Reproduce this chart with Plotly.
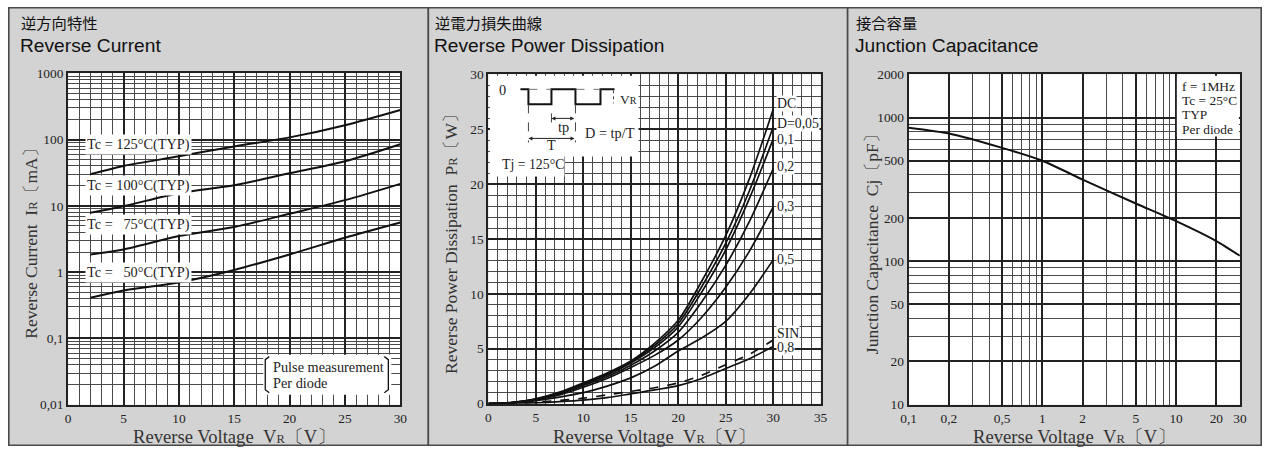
import math
import plotly.graph_objects as go

# The photographed page shows the figure inside an 8 px body margin and the shot is
# rescaled to the window; map target pixel positions through that transform.
FIG_W, FIG_H = 1269, 454
OFF = 8
SX = FIG_W / (FIG_W + 2 * OFF)
SY = FIG_H / (FIG_H + 2 * OFF)


def fx(x):
    return min(max(x / SX - OFF, 0.8), FIG_W - 0.8)


def fy(y):
    return min(max(y / SY - OFF, 0.8), FIG_H - 0.8)


def PX(x):
    return fx(x) / FIG_W


def PY(y):
    return 1 - fy(y) / FIG_H


# ---------------- Panel 1 : Reverse current ----------------
vr_current = [2, 5, 10, 15, 20, 25, 30]
ir_tc125 = [30, 40, 56, 79, 108, 165, 280]
ir_tc100 = [7.9, 9.9, 15.5, 20.5, 31, 47, 85]
ir_tc75 = [1.85, 2.2, 3.5, 4.8, 7.6, 12.2, 21.5]
ir_tc50 = [0.41, 0.53, 0.70, 1.08, 1.85, 3.3, 5.6]
ir_labels = ["Tc\u00a0=\u00a0125°C(TYP)", "Tc\u00a0=\u00a0100°C(TYP)",
             "Tc\u00a0=\u00a0\u00a0\u00a075°C(TYP)", "Tc\u00a0=\u00a0\u00a0\u00a050°C(TYP)"]
ir_label_y = [85, 20, 5.2, 1.0]
ir_yticks = [0.01, 0.1, 1, 10, 100, 1000]
ir_yticktext = ["0,01", "0,1", "1", "10", "100", "1000"]
ir_xticks = [0, 5, 10, 15, 20, 25, 30]

# ---------------- Panel 2 : Reverse power dissipation ----------------
vr_power = [0, 2.5, 5, 7.5, 10, 12.5, 15, 17.5, 20, 22.5, 25, 27.5, 30]
pr_dc = [0, 0.12, 0.45, 1.05, 1.9, 2.8, 3.9, 5.5, 7.6, 11.2, 15.3, 20.5, 26.8]
pr_d005 = [0, 0.11, 0.43, 1.0, 1.8, 2.7, 3.8, 5.3, 7.3, 10.7, 14.6, 19.4, 25.2]
pr_d01 = [0, 0.10, 0.40, 0.95, 1.75, 2.6, 3.7, 5.1, 7.0, 10.2, 14.0, 18.7, 24.1]
pr_d02 = [0, 0.10, 0.38, 0.9, 1.65, 2.45, 3.5, 4.8, 6.5, 9.3, 12.6, 16.6, 21.4]
pr_d03 = [0, 0.09, 0.35, 0.8, 1.5, 2.3, 3.3, 4.4, 5.8, 7.9, 10.6, 13.9, 17.9]
pr_d05 = [0, 0.07, 0.28, 0.6, 1.0, 1.6, 2.35, 3.4, 4.8, 6.0, 7.5, 10.0, 13.1]
pr_sin = [0, 0.04, 0.15, 0.3, 0.5, 0.8, 1.12, 1.45, 1.9, 2.6, 3.55, 4.5, 5.8]
pr_d08 = [0, 0.02, 0.08, 0.18, 0.32, 0.55, 0.9, 1.25, 1.65, 2.3, 3.2, 4.1, 5.2]
pr_labels = ["DC", "D=0,05", "0,1", "0,2", "0,3", "0,5", "SIN", "0,8"]
pr_label_y = [27.3, 25.5, 24.1, 21.6, 18.0, 13.1, 6.4, 5.1]
pr_xticks = [0, 5, 10, 15, 20, 25, 30, 35]
pr_yticks = [0, 5, 10, 15, 20, 25, 30]

# ---------------- Panel 3 : Junction capacitance ----------------
vr_cap = [0.1, 0.2, 0.5, 1, 2, 5, 10, 20, 30]
cj = [850, 775, 615, 500, 370, 252, 190, 138, 109]
cj_xticks = [0.1, 0.2, 0.5, 1, 2, 5, 10, 20, 30]
cj_xticktext = ["0,1", "0,2", "0,5", "1", "2", "5", "10", "20", "30"]
cj_yticks = [10, 20, 50, 100, 200, 500, 1000, 2000]
cj_xminor = [0.3, 0.4, 0.6, 0.7, 0.8, 0.9, 3, 4, 6, 7, 8, 9]
cj_yminor = [30, 40, 60, 70, 80, 90, 300, 400, 600, 700, 800, 900]
cj_notes = ["f\u00a0=\u00a01MHz", "Tc\u00a0=\u00a025°C", "TYP", "Per diode"]

# ---------------- styles ----------------
SERIF = "Liberation Serif, DejaVu Serif, serif"
SANS = "Liberation Sans, Arial, sans-serif"
CJK = "Noto Sans CJK JP"
MAJOR = dict(gridcolor="#222222", gridwidth=1.8)
MINOR_C, MINOR_W = "#4a4a4a", 0.9
TICKFONT = dict(family=SERIF, size=13.4, color="#222222")

fig = go.Figure()

# panel 1 traces
for ys in (ir_tc125, ir_tc100, ir_tc75, ir_tc50):
    fig.add_trace(go.Scatter(x=vr_current, y=ys, mode="lines", xaxis="x", yaxis="y",
                             line=dict(color="#111", width=2, shape="spline", smoothing=0.8),
                             hoverinfo="skip"))
# panel 2 traces
for ys, dash in ((pr_dc, "solid"), (pr_d005, "solid"), (pr_d01, "solid"), (pr_d02, "solid"),
                 (pr_d03, "solid"), (pr_d05, "solid"), (pr_sin, "dash"), (pr_d08, "solid")):
    fig.add_trace(go.Scatter(x=vr_power, y=ys, mode="lines", xaxis="x2", yaxis="y2",
                             line=dict(color="#111", width=1.7, shape="spline", smoothing=0.8,
                                       dash=dash),
                             hoverinfo="skip"))
# panel 3 trace
fig.add_trace(go.Scatter(x=vr_cap, y=cj, mode="lines", xaxis="x3", yaxis="y3",
                         line=dict(color="#111", width=2, shape="spline", smoothing=0.6),
                         hoverinfo="skip"))


def axis_common():
    return dict(showline=True, mirror=True, linecolor="#222", linewidth=2, ticks="",
                zeroline=False, tickfont=TICKFONT, showgrid=True, layer="above traces",
                **MAJOR)


lg = math.log10
ir_yminor = [k * 10 ** d for d in range(-2, 3) for k in range(2, 10)]

layout = dict(
    width=FIG_W, height=FIG_H, margin=dict(l=0, r=0, t=0, b=0), autosize=False,
    paper_bgcolor="white", plot_bgcolor="rgba(0,0,0,0)", showlegend=False,
    xaxis=dict(domain=[PX(68), PX(400)], anchor="y", range=[0, 30], tickvals=ir_xticks,
               minor=dict(dtick=1, showgrid=True, gridcolor=MINOR_C, gridwidth=MINOR_W),
               **axis_common()),
    yaxis=dict(domain=[PY(405), PY(74)], anchor="x", type="log", range=[-2, 3],
               tickvals=ir_yticks, ticktext=ir_yticktext,
               minor=dict(tickmode="array", tickvals=ir_yminor, showgrid=True,
                          gridcolor=MINOR_C, gridwidth=MINOR_W),
               **axis_common()),
    xaxis2=dict(domain=[PX(488), PX(820)], anchor="y2", range=[0, 35], tickvals=pr_xticks,
                minor=dict(dtick=1, showgrid=True, gridcolor=MINOR_C, gridwidth=MINOR_W),
                **axis_common()),
    yaxis2=dict(domain=[PY(404), PY(75)], anchor="x2", range=[0, 30], tickvals=pr_yticks,
                minor=dict(dtick=1, showgrid=True, gridcolor=MINOR_C, gridwidth=MINOR_W),
                **axis_common()),
    xaxis3=dict(domain=[PX(908), PX(1239)], anchor="y3", type="log", range=[lg(0.1), lg(30)],
                tickvals=cj_xticks, ticktext=cj_xticktext,
                minor=dict(tickmode="array", tickvals=cj_xminor, showgrid=True,
                           gridcolor=MINOR_C, gridwidth=MINOR_W),
                **axis_common()),
    yaxis3=dict(domain=[PY(405), PY(75)], anchor="x3", type="log", range=[1, lg(2000)],
                tickvals=cj_yticks,
                minor=dict(tickmode="array", tickvals=cj_yminor, showgrid=True,
                           gridcolor=MINOR_C, gridwidth=MINOR_W),
                **axis_common()),
)
fig.update_layout(**layout)

shapes = []
# panel backgrounds
for x0, x1 in ((6, 428), (428, 847), (847, 1264)):
    shapes.append(dict(type="rect", xref="paper", yref="paper", x0=PX(x0), x1=PX(x1),
                       y0=PY(452), y1=PY(6), fillcolor="#d3d3d3",
                       line=dict(color="#4a4a4a", width=1.6), layer="below"))
# white plot areas
for x0, x1, y0, y1 in ((68, 400, 74, 405), (488, 820, 75, 404), (908, 1239, 75, 405)):
    shapes.append(dict(type="rect", xref="paper", yref="paper", x0=PX(x0), x1=PX(x1),
                       y0=PY(y1), y1=PY(y0), fillcolor="white", line=dict(width=0),
                       layer="below"))


def white_box(x0, y0, x1, y1):
    shapes.append(dict(type="rect", xref="paper", yref="paper", x0=PX(x0), x1=PX(x1),
                       y0=PY(y1), y1=PY(y0), fillcolor="white", line=dict(width=0),
                       layer="above"))


def path(pts, color="#111", width=2, dash="solid", layer="above"):
    d = "M " + " L ".join(f"{PX(x)},{PY(y)}" for x, y in pts)
    shapes.append(dict(type="path", xref="paper", yref="paper", path=d,
                       line=dict(color=color, width=width, dash=dash), layer=layer))


# panel 1 note box with brackets
white_box(263, 355, 391, 395)
path([(269, 357), (265, 360), (265, 390), (269, 393)], width=1.3)
path([(384, 357), (388, 360), (388, 390), (384, 393)], width=1.3)

# panel 2 inset (L-shaped white area)
white_box(489.5, 76.5, 638, 157)
white_box(489.5, 156, 564, 177)
path([(520, 90), (528, 90), (528, 105), (551, 105), (551, 90), (575, 90), (575, 105),
      (600, 105), (600, 90), (614, 90)], width=2)
path([(528, 90), (551, 90)], color="#777", width=1, dash="dash")
path([(575, 90), (600, 90)], color="#777", width=1, dash="dash")
path([(528, 105), (528, 143)], color="#444", width=1, dash="dash")
path([(551, 114), (551, 128)], color="#444", width=1, dash="dash")
path([(575, 105), (575, 143)], color="#444", width=1, dash="dash")
path([(613, 91), (613, 104)], color="#444", width=1, dash="dot")

# panel 3 note box
white_box(1176, 76.5, 1238, 137)

fig.update_layout(shapes=shapes)

ann = []


def text(x, y, s, size=13, family=SERIF, xanchor="left", yanchor="middle", angle=0,
         color="#222", bg=None):
    d = dict(x=PX(x), y=PY(y), xref="paper", yref="paper", text=s, showarrow=False,
             xanchor=xanchor, yanchor=yanchor, textangle=angle,
             font=dict(family=family, size=size, color=color))
    if bg:
        d["bgcolor"] = bg
        d["borderpad"] = 0
    ann.append(d)


# titles
for x0, jp, en in ((19, "逆方向特性", "Reverse Current"),
                   (433, "逆電力損失曲線", "Reverse Power Dissipation"),
                   (853, "接合容量", "Junction Capacitance")):
    text(x0, 23, jp, size=15.3, family=CJK, color="#111")
    text(x0 - 1, 46, en, size=19.2, family=SANS, color="#111")

SUBR = "<span style='font-size:12.5px'>R</span>"
NB = "\u00a0"
xtitle = f"Reverse Voltage{NB}{NB}V{SUBR}〔V〕"
for cx in ((68 + 400) / 2, (488 + 820) / 2, (908 + 1239) / 2):
    text(cx, 437, xtitle, size=18.6, xanchor="center", color="#333")
text(30, 240, f"Reverse Current{NB}{NB}I{SUBR}〔mA〕", size=17.5, xanchor="center", angle=-90,
     color="#333")
text(450, 240, f"Reverse Power Dissipation{NB}{NB}P{SUBR}〔W〕", size=17.5, xanchor="center",
     angle=-90, color="#333")
text(871, 240, f"Junction Capacitance{NB}{NB}Cj〔pF〕", size=17.5, xanchor="center", angle=-90,
     color="#333")

# panel 1 curve labels (data coordinates)
for s, yv in zip(ir_labels, ir_label_y):
    ann.append(dict(x=1.5, y=lg(yv), xref="x", yref="y", text=s, showarrow=False,
                    xanchor="left", yanchor="middle", bgcolor="white", borderpad=1,
                    font=dict(family=SERIF, size=14.3, color="#222")))
text(271, 367, "Pulse measurement", size=14.3)
text(271, 383, "Per diode", size=14.3)

# panel 2 curve labels (data coordinates)
for s, yv in zip(pr_labels, pr_label_y):
    ann.append(dict(x=30.35, y=yv, xref="x2", yref="y2", text=s, showarrow=False,
                    xanchor="left", yanchor="middle", bgcolor="white", borderpad=0,
                    font=dict(family=SERIF, size=13.8, color="#222")))

# panel 2 inset texts & arrows
text(497, 91, "0", size=14.3)
text(618, 100, "V" + "<span style='font-size:10px'>R</span>", size=13.4)
text(563, 128, "tp", size=14.3, xanchor="center")
text(551, 146, "T", size=14.3, xanchor="center")
text(583, 134, "D\u00a0=\u00a0tp/T", size=14.3)
text(500, 165, "Tj\u00a0=\u00a0125°C", size=13.8)
for (xh, yh, xt) in ((551, 119, 575), (528, 139, 575)):
    ann.append(dict(x=PX(xh), y=PY(yh), xref="paper", yref="paper",
                    ax=fx(xt) - fx(xh), ay=0,
                    text="", showarrow=True, arrowhead=2, arrowside="end+start",
                    arrowsize=0.8, arrowwidth=1, arrowcolor="#222"))

# panel 3 notes
for i, s in enumerate(cj_notes):
    text(1179, 87 + i * 14.3, s, size=13.4)

fig.update_layout(annotations=ann)

fig.write_html("out.html")
